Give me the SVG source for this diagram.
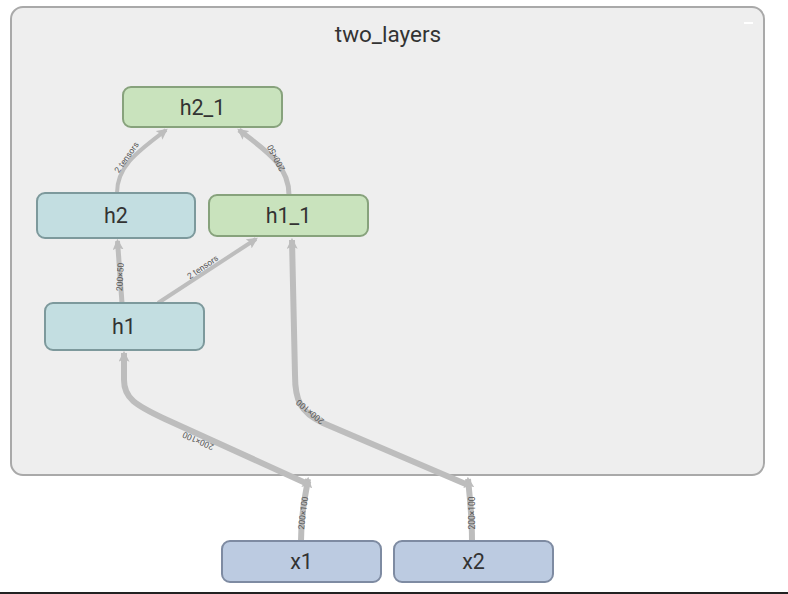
<svg xmlns="http://www.w3.org/2000/svg" width="788" height="594" viewBox="0 0 788 594">
<style>
.node rect{stroke-width:2}
.green rect{fill:#c9e3bd;stroke:#87a27c}
.teal rect{fill:#c3dee1;stroke:#7d999c}
.blue rect{fill:#bccbe1;stroke:#7e8ba2}
.nl{font-family:Roboto,"Liberation Sans",sans-serif;font-size:21.5px;fill:#333;text-anchor:middle}
.edge{fill:none;stroke:#bdbdbd;stroke-linecap:butt}
.el{font-family:Roboto,"Liberation Sans",sans-serif;font-size:8.5px;fill:#555;text-anchor:middle}
</style>
<defs>
<marker id="arr" viewBox="0 0 10 10" refX="8" refY="5" markerWidth="11" markerHeight="11" markerUnits="userSpaceOnUse" orient="auto">
<path d="M0,0 L10,5 L0,10 L2,5 Z" fill="#bdbdbd"/>
</marker>
</defs>
<rect x="0" y="0" width="788" height="594" fill="#fff"/>
<g id="two_layers">
<rect x="11" y="7" width="753" height="468" rx="12" fill="#eeeeee" stroke="#a9a9a9" stroke-width="2"/>
<text x="388" y="42" font-family="Roboto,'Liberation Sans',sans-serif" font-size="22.5" fill="#333" text-anchor="middle">two_layers</text>
<rect x="744" y="22" width="9" height="2" fill="#fff"/>
</g>
<g id="connectors">
<path class="edge" stroke-width="4" d="M117,193 C117,165 140,150 166,130" marker-end="url(#arr)"/>
<path class="edge" stroke-width="5" d="M289,195 C289,165 265,150 239,130" marker-end="url(#arr)"/>
<path class="edge" stroke-width="5" d="M122,303 L117.5,241" marker-end="url(#arr)"/>
<path class="edge" stroke-width="4" d="M158,303 L256,239" marker-end="url(#arr)"/>
<path class="edge" stroke-width="6" d="M301,541 C301,510 305,500 308,479" marker-end="url(#arr)"/>
<path class="edge" stroke-width="6" d="M472,541 C472,515 470,500 468,479" marker-end="url(#arr)"/>
<path class="edge" stroke-width="6" d="M310,485 L165,419 C135,405 124,398 124,380 L124,353" marker-end="url(#arr)"/>
<path class="edge" stroke-width="6" d="M468,485 L323,423 C300,412 295,400 295,375 L292,240" marker-end="url(#arr)"/>
<text class="el" transform="translate(129,159) rotate(-55)">2 tensors</text>
<text class="el" transform="translate(276,158) rotate(-118)" dy="3">200×50</text>
<text class="el" transform="translate(120,277) rotate(-87)" dy="3">200×50</text>
<text class="el" transform="translate(206,272) rotate(-34)" dy="-3">2 tensors</text>
<text class="el" transform="translate(198,441) rotate(-156)" dy="3">200×100</text>
<text class="el" transform="translate(310,412) rotate(-140)" dy="3">200×100</text>
<text class="el" transform="translate(303,513) rotate(-83)" dy="3">200×100</text>
<text class="el" transform="translate(472,513) rotate(-90)" dy="3">200×100</text>
</g>
<g id="h2_1" class="node green">
<rect x="123" y="87" width="159" height="40" rx="8"/>
<text class="nl" x="202.5" y="115">h2_1</text>
</g>
<g id="h2" class="node teal">
<rect x="37" y="193" width="158" height="45" rx="8"/>
<text class="nl" x="116" y="223">h2</text>
</g>
<g id="h1_1" class="node green">
<rect x="209" y="195" width="159" height="41" rx="8"/>
<text class="nl" x="288.5" y="223">h1_1</text>
</g>
<g id="h1" class="node teal">
<rect x="45" y="303" width="159" height="47" rx="8"/>
<text class="nl" x="124" y="334">h1</text>
</g>
<g id="x1" class="node blue">
<rect x="222" y="541" width="159" height="41" rx="8"/>
<text class="nl" x="301.5" y="569">x1</text>
</g>
<g id="x2" class="node blue">
<rect x="394" y="541" width="159" height="41" rx="8"/>
<text class="nl" x="473.5" y="569">x2</text>
</g>
<rect x="0" y="592" width="788" height="2" fill="#222"/>
</svg>
